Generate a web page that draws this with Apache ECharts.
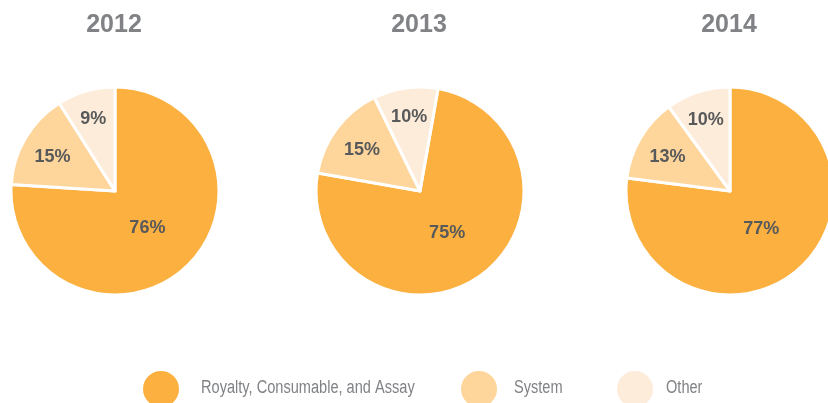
<!DOCTYPE html>
<html>
<head>
<meta charset="utf-8">
<script src="https://cdn.jsdelivr.net/npm/echarts@6/dist/echarts.min.js"></script>
<style>
  html, body { margin: 0; padding: 0; background: #fff; }
  #main { width: 828px; height: 403px; }
</style>
</head>
<body>
<div id="main"></div>
<script>
const categories = ['Royalty, Consumable, and Assay', 'System', 'Other'];
const years = ['2012', '2013', '2014'];
const share2012 = [76, 15, 9];
const share2013 = [75, 15, 10];
const share2014 = [77, 13, 10];

const palette = ['#FBB040', '#FED59B', '#FEECDA'];
const centersX = [115, 420, 730];
const centerY = 191;
const startAngles = [90, 80, 90];
// label distance from centre as a fraction of the radius, per slice
const labelRadius = [0.43, 0.66, 0.71];
const legendIconX = [141, 459, 615];
const legendTextX = [201, 514, 666];

const shares = [share2012, share2013, share2014];

const chart = echarts.init(document.getElementById('main'));

const option = {
  backgroundColor: '#fff',
  color: palette,
  animation: false,
  title: years.map((y, i) => ({
    text: y,
    left: centersX[i] - 1,
    top: 13,
    padding: 0,
    textAlign: 'center',
    textStyle: { color: '#808285', fontSize: 25, fontWeight: 'bold', fontFamily: 'Liberation Sans, Arial, sans-serif' }
  })),
  legend: categories.map((c, i) => ({
    data: [c],
    left: legendIconX[i],
    top: 369,
    padding: 0,
    icon: 'circle',
    itemWidth: 38,
    itemHeight: 38,
    selectedMode: false,
    formatter: () => ''
  })),
  // legend texts drawn separately so they can be condensed like the original font
  graphic: categories.map((c, i) => ({
    type: 'text',
    x: legendTextX[i],
    y: 388,
    scaleX: 0.81,
    silent: true,
    style: {
      text: c,
      fill: '#808285',
      fontSize: 18,
      fontFamily: 'Liberation Sans, Arial, sans-serif',
      verticalAlign: 'middle'
    }
  })),
  series: shares.map((vals, i) => ({
    type: 'pie',
    name: years[i],
    center: [centersX[i], centerY],
    radius: [0, 104],
    startAngle: startAngles[i],
    clockwise: true,
    itemStyle: { borderColor: '#fff', borderWidth: 3 },
    label: {
      position: 'inside',
      formatter: p => p.value + '%',
      color: '#58595B',
      fontSize: 18,
      fontWeight: 'bold',
      fontFamily: 'Liberation Sans, Arial, sans-serif'
    },
    labelLayout: params => {
      const r = params.labelRect;
      const vx = r.x + r.width / 2 - centersX[i];
      const vy = r.y + r.height / 2 - centerY;
      const f = labelRadius[params.dataIndex] / 0.5 - 1;
      return { dx: vx * f, dy: vy * f + 3 };
    },
    labelLine: { show: false },
    emphasis: { disabled: true },
    data: categories.map((c, k) => ({ name: c, value: vals[k] }))
  }))
};

chart.setOption(option);
</script>
</body>
</html>
